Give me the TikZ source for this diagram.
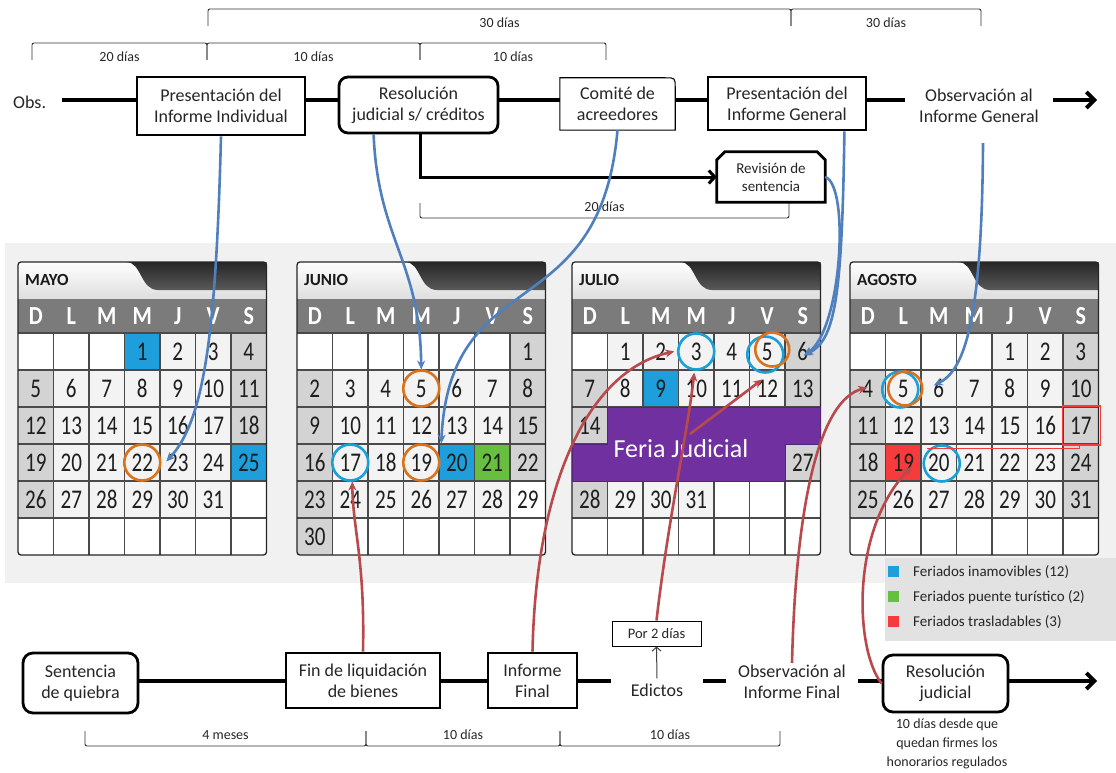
\documentclass[tikz,border=0pt]{standalone}
\usepackage{fontspec}
\usepackage{graphicx}
\setmainfont{Carlito}
\usetikzlibrary{arrows.meta,calc}

\definecolor{cblue}{HTML}{4F7FBD}
\definecolor{cred}{HTML}{B84A4E}
\definecolor{hblue}{HTML}{1E9FDB}
\definecolor{hgreen}{HTML}{66BF3F}
\definecolor{hred}{HTML}{F53B3B}
\definecolor{purp}{HTML}{7030A0}
\definecolor{corange}{HTML}{D8721E}
\definecolor{ccyan}{HTML}{1AA0D8}
\definecolor{bandgray}{HTML}{F1F1F1}
\definecolor{leggray}{HTML}{E2E2E2}
\definecolor{wkgray}{HTML}{D3D3D3}
\definecolor{cellw}{HTML}{F3F3F3}
\definecolor{dayrow}{HTML}{7B7B7B}
\definecolor{tabdark}{HTML}{3E3E3E}
\definecolor{gridc}{HTML}{4A4A4A}
\definecolor{numc}{HTML}{1E1E1E}

\newcommand\CW{35.5}
\newcommand\CH{37}
\newcommand\fsBox{\fontsize{18}{21}\selectfont}
\newcommand\fsSmall{\fontsize{14}{19}\selectfont}
\newcommand\fsRev{\fontsize{15}{18}\selectfont}

\tikzset{
 monthname/.style={anchor=west, font=\bfseries\fontsize{17}{17}\selectfont, text=black!90, inner sep=0pt},
 dayhead/.style={font=\bfseries\fontsize{26}{26}\selectfont, text=white, inner sep=0pt},
 daynum/.style={font=\fontsize{27}{27}\selectfont, text=numc, inner sep=0pt},
 gridline/.style={draw=gridc, line width=1.1pt},
 calborder/.style={draw=black!85, line width=1.3pt, rounded corners=3pt},
 ocirc/.style={draw=corange, line width=2.6pt},
 ccirc/.style={draw=ccyan, line width=2.6pt},
 bluearr/.style={draw=cblue, line width=2.6pt, -{Stealth[length=9pt,width=8pt]}},
 redarr/.style={draw=cred, line width=2.6pt, -{Stealth[length=9pt,width=8pt]}},
 mainline/.style={line width=3.8pt, -{Straight Barb[length=8pt,width=16pt]}},
 tbox/.style={draw, line width=2.8pt, fill=white, align=center, font=\fsBox, text=black!85, inner sep=0pt},
 txt/.style={fill=white, align=center, font=\fsBox, text=black!85},
 bracket/.style={draw=black!80, line width=0.9pt, rounded corners=2pt},
 blabel/.style={font=\fsSmall, text=black!85, inner sep=1pt},
 legtext/.style={anchor=west, font=\fontsize{15}{15}\selectfont, text=black!85, inner sep=0pt},
}

\newcommand\hcell[3]{\fill[fill=#1] ({#2*\CW},{333+#3*\CH}) rectangle ({(#2+1)*\CW},{333+(#3+1)*\CH});}

% #1 x0, #2 name, #3 first column, #4 days, #5 prefix, #6-#7 hidden range, #8 highlights
\newcommand\mkcal[8]{%
\begin{scope}[shift={(#1,0)}]
  \fill[white] (0,262) rectangle (248.5,555);
  \shade[top color=white,bottom color=black!13] (0,262) rectangle (248.5,299);
  \shade[top color=black!85,bottom color=black!65] (108,262) .. controls (124,262) and (122,290) .. (140,290) -- (248.5,290) -- (248.5,262) -- cycle;
  \node[monthname] (#5-name) at (7,280) {#2};
  \fill[dayrow] (0,299) rectangle (248.5,333);
  \foreach \l [count=\k from 0] in {D,L,M,M,J,V,S}
    \node[dayhead] (#5-h\k) at ({(\k+0.5)*\CW},316.5) {\scalebox{0.85}[1]{\l}};
  \foreach \i in {0,...,41}{%
    \pgfmathtruncatemacro\calC{mod(\i,7)}%
    \pgfmathtruncatemacro\calR{div(\i,7)}%
    \pgfmathtruncatemacro\calD{\i-#3+1}%
    \pgfmathtruncatemacro\calOK{and(\calD>0,\calD<(#4+1))}%
    \ifnum\calOK=1
      \pgfmathtruncatemacro\calWE{or(\calC==0,\calC==6)}%
      \ifnum\calWE=1 \def\calF{wkgray}\else\def\calF{cellw}\fi
      \fill[fill=\calF] ({\calC*\CW},{333+\calR*\CH}) rectangle ({(\calC+1)*\CW},{333+(\calR+1)*\CH});
    \fi}
  #8
  \foreach \k in {1,...,6} \draw[gridline] ({\k*\CW},333) -- ({\k*\CW},555);
  \foreach \k in {0,...,5} \draw[gridline] (0,{333+\k*\CH}) -- (248.5,{333+\k*\CH});
  \foreach \i in {0,...,41}{%
    \pgfmathtruncatemacro\calC{mod(\i,7)}%
    \pgfmathtruncatemacro\calR{div(\i,7)}%
    \pgfmathtruncatemacro\calD{\i-#3+1}%
    \pgfmathtruncatemacro\calV{and(\calD>0,\calD<(#4+1))*(1-and(\calD>(#6-1),\calD<(#7+1)))}%
    \ifnum\calV=1
      \node[daynum] (#5-\calD) at ({(\calC+0.5)*\CW},{333+(\calR+0.5)*\CH}) {\scalebox{0.78}[1]{\calD}};
    \fi}
  \draw[calborder] (0,262) rectangle (248.5,555);
\end{scope}}

\newcommand\topbr[5]{%
  \draw[bracket] (#1,{#3+17}) -- (#1,#3) -- (#2,#3) -- (#2,{#3+17});
  \node[blabel] (#5) at ({(#1+#2)/2},{#3+14}) {#4};}
\newcommand\botbr[5]{%
  \draw[bracket] (#1,{#3-15}) -- (#1,#3) -- (#2,#3) -- (#2,{#3-15});
  \node[blabel] (#5) at ({(#1+#2)/2},{#3-11}) {#4};}

\begin{document}
\begin{tikzpicture}[x=1pt,y=-1pt]
\useasboundingbox (0,0) rectangle (1116,773);

% background band
\fill[bandgray] (5,243) rectangle (1116,583);

% calendars
\mkcal{18}{MAYO}{3}{31}{may}{0}{0}{\hcell{hblue}{3}{0}\hcell{hblue}{6}{3}}
\mkcal{297}{JUNIO}{6}{30}{jun}{0}{0}{\hcell{hblue}{4}{3}\hcell{hgreen}{5}{3}\hcell{white}{6}{4}}
\mkcal{572}{JULIO}{1}{31}{jul}{15}{26}{\hcell{hblue}{2}{1}}
\mkcal{850}{AGOSTO}{4}{31}{ago}{0}{0}{\hcell{hred}{1}{3}}

% Feria judicial
\fill[purp, draw=purp!75!black, line width=0.8pt] (607.5,407) -- (820.5,407) -- (820.5,444) -- (785,444) -- (785,481) -- (572,481) -- (572,444) -- (607.5,444) -- cycle;
\node[font=\fontsize{26}{26}\selectfont, text=white] (feria) at (681,449) {Feria Judicial};

% legend
\fill[leggray] (885,558) rectangle (1116,641);
\fill[hblue] (888,566) rectangle (899,577);
\node[legtext] (lg1) at (913,572) {Feriados inamovibles (12)};
\fill[hgreen] (888,591) rectangle (899,602);
\node[legtext] (lg2) at (913,597) {Feriados puente turístico (2)};
\fill[hred] (888,616) rectangle (899,627);
\node[legtext] (lg3) at (913,622) {Feriados trasladables (3)};

% circles and marks
\draw[ocirc] (may-22) circle[radius=18pt];
\draw[ocirc] (jun-5) circle[radius=18pt];
\draw[ocirc] (jun-19) circle[radius=18pt];
\draw[ccirc] (jun-17) circle[radius=18pt];
\draw[ccirc] (jul-3) circle[radius=18pt];
\draw[ccirc] ($(jul-5)+(-2,3)$) circle[radius=18pt];
\draw[ocirc] ($(jul-5)+(5,-2)$) circle[radius=17pt];
\draw[ccirc] ($(ago-5)+(-3,1)$) circle[radius=18pt];
\draw[ocirc] ($(ago-5)+(2,0)$) circle[radius=17pt];
\draw[ccirc] ($(ago-20)+(3,1)$) circle[radius=18pt];
\draw[draw=hred, line width=1.3pt] ($(ago-17)+(-18,-19.5)$) rectangle ($(ago-17)+(19.5,19.5)$);
\draw[draw=hred, line width=1pt] ($(ago-17)+(-1,19.5)$) |- ($(ago-20)+(-12,-14)$);

% brackets
\topbr{208}{791}{9}{30 días}{b30a}
\topbr{791}{981}{9}{30 días}{b30b}
\topbr{32}{207}{43}{20 días}{b20}
\topbr{207}{420}{43}{10 días}{b10a}
\topbr{420}{606}{43}{10 días}{b10b}
\botbr{420}{789}{218}{20 días}{b20r}
\botbr{85}{366}{746}{4 meses}{b4m}
\botbr{366}{560}{746}{10 días}{b10c}
\botbr{560}{780}{746}{10 días}{b10d}

% top timeline
\coordinate (ts) at (62,100);
\coordinate (te) at (1097,100);
\draw[mainline] (ts) -- (te);
\node[font=\fontsize{18}{18}\selectfont, text=black!85, anchor=west, inner sep=0pt] (obs) at (13,102) {Obs.};
\node[tbox, minimum width=168pt, minimum height=58pt] (pii) at (221,106) {Presentación del\\Informe Individual};
\node[tbox, rounded corners=9pt, minimum width=159pt, minimum height=56pt] (rjc) at (418.5,105) {Resolución\\judicial s/ créditos};
\node[fill=white, align=center, font=\fsBox, text=black!85, minimum width=115pt, minimum height=52pt, inner sep=0pt] (com) at (617.5,104) {Comité de\\acreedores};
\draw[line width=1.1pt] (com.south west) -- (com.north west) -- ($(com.north east)+(-10,0)$) .. controls (com.north east) .. ($(com.north east)+(0,10)$) -- (com.south east) -- cycle;
\node[tbox, minimum width=158pt, minimum height=53pt] (pig) at (787,103.5) {Presentación del\\Informe General};
\node[txt, inner xsep=14pt, inner ysep=2pt] (oig) at (979,106) {Observación al\\Informe General};
\node[fill=white, align=center, font=\fsRev, text=black!85, minimum width=108pt, minimum height=50pt, inner sep=0pt] (rev) at (771,177) {Revisión de\\sentencia};
\draw[line width=2.8pt] (rev.south west) -- ($(rev.north west)+(0,8)$) -- ($(rev.north west)+(8,0)$) -- ($(rev.north east)+(-8,0)$) -- ($(rev.north east)+(0,8)$) -- (rev.south east) -- cycle;
\draw[line width=3pt, -{Straight Barb[length=6pt,width=13pt]}] ($(rjc.south)+(1.5,0)$) |- (rev.west);

% bottom timeline
\coordinate (bs) at (138,681);
\coordinate (be) at (1097,681);
\draw[mainline] (bs) -- (be);
\node[tbox, rounded corners=10pt, minimum width=115pt, minimum height=60pt] (sq) at (80.5,683) {Sentencia\\de quiebra};
\node[tbox, minimum width=154pt, minimum height=55pt] (fin) at (363,680.5) {Fin de liquidación\\de bienes};
\node[tbox, minimum width=89pt, minimum height=55pt] (inf) at (532.5,680.5) {Informe\\Final};
\node[txt, inner xsep=20pt, inner ysep=5pt] (edi) at (657,690) {Edictos};
\node[draw, line width=1pt, fill=white, minimum width=89pt, minimum height=25pt, font=\fontsize{14.5}{14.5}\selectfont, text=black!85, inner sep=0pt] (p2d) at (656.5,633.5) {Por 2 días};
\draw[line width=1pt, draw=black!75, -{Straight Barb[length=4pt,width=9pt]}] (edi.north) -- (p2d.south);
\node[txt, inner xsep=12pt, inner ysep=2pt] (oif) at (792,682) {Observación al\\Informe Final};
\node[tbox, rounded corners=10pt, minimum width=125pt, minimum height=57pt] (rj) at (945.5,683.5) {Resolución\\judicial};
\node[font=\fsSmall, text=black!85, align=center, inner sep=0pt] (rjnote) at (947,744) {10 días desde que\\quedan firmes los\\honorarios regulados};

% blue connectors
\draw[bluearr] (pii.south) .. controls (216,330) and (205,420) .. ($(may-22)+(24,-1)$);
\draw[bluearr] ($(rjc.south west)+(36,0)$) .. controls (378,240) and (420,260) .. ($(jun-5)+(0,-19)$);
\draw[bluearr] (com.south) .. controls (600,330) and (450,260) .. ($(jun-19)+(20,-19)$);
\draw[bluearr] ($(pig.south east)+(-23,0)$) .. controls (842,300) and (835,340) .. ($(jul-6)+(1,4)$);
\draw[bluearr] (rev.east) .. controls (850,185) and (842,330) .. ($(jul-6)+(1,4)$);
\draw[bluearr] ($(oig.south)+(4,18)$) .. controls (982,320) and (965,370) .. ($(ago-6)+(-5,-3)$);

% red connectors
\draw[redarr] (fin.north) .. controls (365,560) and (353,530) .. ($(jun-17)+(2,19)$);
\draw[redarr] (inf.north) .. controls (536,480) and (590,370) .. ($(jul-3)+(-22,0)$);
\draw[redarr] (p2d.north) .. controls (668,520) and (688,430) .. ($(jul-3)+(-2,21)$);
\coordinate (brs) at (690,434);
\draw[redarr] (brs) -- ($(jul-5)+(-5,28)$);
\draw[redarr] (oif.north) .. controls (796,500) and (820,400) .. ($(ago-5)+(-36,-1)$);
\draw[redarr] (rj.west) .. controls (855,650) and (850,530) .. ($(ago-20)+(-27,4)$);
\end{tikzpicture}
\end{document}
